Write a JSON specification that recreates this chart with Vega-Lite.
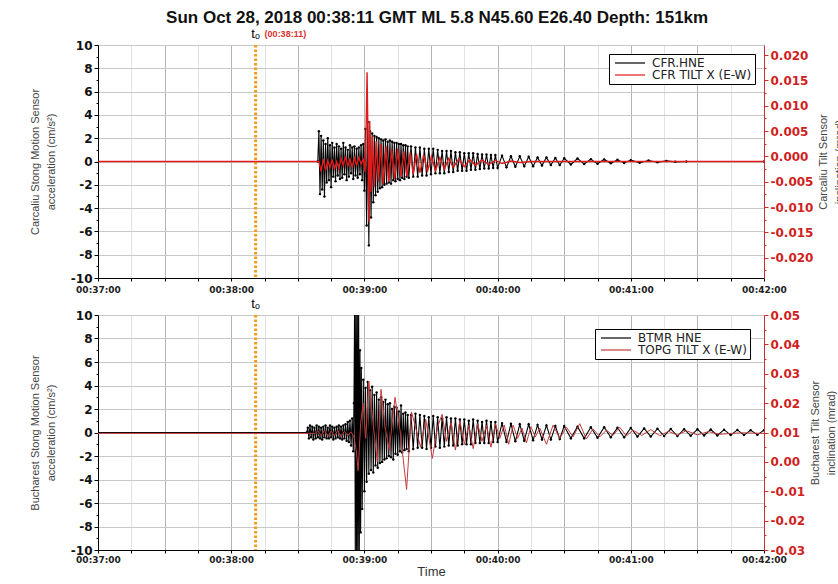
{
"$schema": "https://vega.github.io/schema/vega-lite/v6.json",
"padding": {"left": 28, "top": 8, "right": 5, "bottom": 5},
"bounds": "flush",
"spacing": 37,
"title": {"text": "Sun Oct 28, 2018 00:38:11 GMT ML 5.8 N45.60 E26.40 Depth: 151km", "font": "Liberation Sans", "fontSize": 17, "fontWeight": "bold", "color": "#111", "anchor": "middle", "offset": 1},
"datasets": {
"cfrA": [{"s":0,"v":0},{"s":99,"v":0},{"s":99.5,"v":2.6},{"s":100,"v":-2.8},{"s":100.5,"v":2.2},{"s":101,"v":-2.4},{"s":101.5,"v":1.8},{"s":102,"v":-3.0},{"s":102.5,"v":1.5},{"s":103,"v":-1.8},{"s":103.5,"v":2.0},{"s":104,"v":-1.6},{"s":104.5,"v":1.4},{"s":105,"v":-2.2},{"s":105.5,"v":1.6},{"s":106,"v":-1.3},{"s":106.5,"v":1.2},{"s":107,"v":-1.7},{"s":107.5,"v":1.5},{"s":108,"v":-1.2},{"s":108.5,"v":1.3},{"s":109,"v":-1.5},{"s":109.5,"v":1.1},{"s":110,"v":-1.4},{"s":110.5,"v":1.6},{"s":111,"v":-1.1},{"s":111.5,"v":1.2},{"s":112,"v":-1.6},{"s":112.5,"v":1.0},{"s":113,"v":-1.3},{"s":113.5,"v":1.4},{"s":114,"v":-1.0},{"s":114.5,"v":1.2},{"s":115,"v":-1.5},{"s":115.5,"v":1.3},{"s":116,"v":-1.2},{"s":116.5,"v":1.1},{"s":117,"v":-1.4},{"s":117.5,"v":1.2},{"s":118,"v":-1.1},{"s":118.5,"v":1.4},{"s":119,"v":-1.6},{"s":119.5,"v":1.5},{"s":120,"v":-2.5},{"s":120.5,"v":2.8},{"s":121,"v":-5.5},{"s":121.5,"v":3.4},{"s":122,"v":-7.2},{"s":122.5,"v":2.6},{"s":123,"v":-4.8},{"s":123.5,"v":2.4},{"s":124,"v":-3.5},{"s":124.5,"v":2.2},{"s":125,"v":-2.9},{"s":125.5,"v":2.1},{"s":126,"v":-2.6},{"s":126.5,"v":2.0},{"s":127,"v":-2.3},{"s":127.5,"v":1.9},{"s":128,"v":-2.2},{"s":128.5,"v":1.8},{"s":129,"v":-2.0},{"s":129.5,"v":1.9},{"s":130,"v":-1.9},{"s":130.5,"v":1.7},{"s":131,"v":-1.8},{"s":131.5,"v":1.8},{"s":132,"v":-1.9},{"s":132.5,"v":1.7},{"s":133,"v":-1.6},{"s":133.5,"v":1.6},{"s":134,"v":-1.7},{"s":134.5,"v":1.6},{"s":135,"v":-1.5},{"s":135.5,"v":1.5},{"s":136,"v":-1.6},{"s":136.5,"v":1.5},{"s":137,"v":-1.4},{"s":137.5,"v":1.4},{"s":138,"v":-1.5},{"s":138.5,"v":1.4},{"s":139,"v":-1.3},{"s":139.5,"v":1.3},{"s":140,"v":-1.4},{"s":141,"v":1.3},{"s":142,"v":-1.3},{"s":143,"v":1.2},{"s":144,"v":-1.3},{"s":145,"v":1.2},{"s":146,"v":-1.2},{"s":147,"v":1.1},{"s":148,"v":-1.2},{"s":149,"v":1.1},{"s":150,"v":-1.1},{"s":151,"v":1.1},{"s":152,"v":-1.0},{"s":153,"v":1.0},{"s":154,"v":-1.0},{"s":155,"v":0.9},{"s":156,"v":-1.0},{"s":157,"v":0.9},{"s":158,"v":-0.9},{"s":159,"v":0.9},{"s":160,"v":-0.9},{"s":161,"v":0.8},{"s":162,"v":-0.8},{"s":163,"v":0.8},{"s":164,"v":-0.8},{"s":165,"v":0.7},{"s":166,"v":-0.8},{"s":167,"v":0.7},{"s":168,"v":-0.7},{"s":169,"v":0.7},{"s":170,"v":-0.7},{"s":171,"v":0.65},{"s":172,"v":-0.65},{"s":173,"v":0.6},{"s":174,"v":-0.6},{"s":175,"v":0.6},{"s":176,"v":-0.6},{"s":177,"v":0.55},{"s":178,"v":-0.55},{"s":179,"v":0.55},{"s":180,"v":-0.55},{"s":182,"v":0.5},{"s":184,"v":-0.5},{"s":186,"v":0.45},{"s":188,"v":-0.45},{"s":190,"v":0.45},{"s":192,"v":-0.4},{"s":194,"v":0.4},{"s":196,"v":-0.4},{"s":198,"v":0.35},{"s":200,"v":-0.35},{"s":202,"v":0.35},{"s":204,"v":-0.3},{"s":206,"v":0.3},{"s":208,"v":-0.3},{"s":210,"v":0.28},{"s":213,"v":-0.25},{"s":216,"v":0.25},{"s":219,"v":-0.22},{"s":222,"v":0.2},{"s":225,"v":-0.2},{"s":228,"v":0.18},{"s":231,"v":-0.15},{"s":234,"v":0.15},{"s":237,"v":-0.13},{"s":240,"v":0.12},{"s":244,"v":-0.1},{"s":248,"v":0.08},{"s":252,"v":-0.06},{"s":256,"v":0.05},{"s":260,"v":-0.03},{"s":265,"v":0},{"s":300,"v":0}],
"cfrT": [{"s":0,"v":-0.001},{"s":99.5,"v":-0.001},{"s":100.5,"v":-0.003},{"s":101.5,"v":-0.0005},{"s":102.5,"v":-0.0028},{"s":103.5,"v":-0.0008},{"s":104.5,"v":-0.0022},{"s":105.5,"v":-0.0006},{"s":106.5,"v":-0.0026},{"s":107.5,"v":-0.001},{"s":108.5,"v":-0.0024},{"s":109.5,"v":-0.0004},{"s":110.5,"v":-0.0018},{"s":111.5,"v":0},{"s":112.5,"v":-0.002},{"s":113.5,"v":-0.0005},{"s":114.5,"v":-0.0022},{"s":115.5,"v":-0.0003},{"s":116.5,"v":-0.0017},{"s":117.5,"v":-0.0002},{"s":118.5,"v":-0.0015},{"s":119.5,"v":-0.0006},{"s":120.3,"v":-0.003},{"s":120.8,"v":0.006},{"s":121.2,"v":0.0166},{"s":121.6,"v":0.004},{"s":122,"v":-0.0129},{"s":122.4,"v":0.007},{"s":122.9,"v":-0.007},{"s":123.6,"v":0.004},{"s":124.4,"v":-0.006},{"s":125.3,"v":0.003},{"s":126.3,"v":-0.005},{"s":127.3,"v":0.0025},{"s":128.5,"v":-0.0055},{"s":129.8,"v":0.002},{"s":131,"v":-0.005},{"s":132.3,"v":0.0015},{"s":133.6,"v":-0.0045},{"s":135,"v":0.0015},{"s":136.4,"v":-0.004},{"s":137.8,"v":0.001},{"s":139.2,"v":-0.004},{"s":140.6,"v":0.0008},{"s":142,"v":-0.0035},{"s":143.5,"v":0.0005},{"s":145,"v":-0.0032},{"s":146.7,"v":0.0003},{"s":148.4,"v":-0.003},{"s":150.2,"v":0},{"s":152,"v":-0.0028},{"s":154,"v":-0.0002},{"s":156,"v":-0.0025},{"s":158,"v":-0.0004},{"s":160,"v":-0.0022},{"s":162.5,"v":-0.0005},{"s":165,"v":-0.002},{"s":167.5,"v":-0.0006},{"s":170,"v":-0.0018},{"s":173,"v":-0.0007},{"s":176,"v":-0.0016},{"s":179,"v":-0.0008},{"s":182,"v":-0.0014},{"s":186,"v":-0.0009},{"s":190,"v":-0.0012},{"s":195,"v":-0.001},{"s":300,"v":-0.001}],
"btmrA": [{"s":0,"v":0},{"s":94,"v":0},{"s":94.5,"v":0.4},{"s":95,"v":-0.5},{"s":95.5,"v":0.6},{"s":96,"v":-0.4},{"s":96.5,"v":0.5},{"s":97,"v":-0.6},{"s":97.5,"v":0.4},{"s":98,"v":-0.5},{"s":98.5,"v":0.6},{"s":99,"v":-0.4},{"s":99.5,"v":0.5},{"s":100,"v":-0.5},{"s":100.5,"v":0.4},{"s":101,"v":-0.6},{"s":101.5,"v":0.5},{"s":102,"v":-0.4},{"s":102.5,"v":0.6},{"s":103,"v":-0.5},{"s":103.5,"v":0.4},{"s":104,"v":-0.5},{"s":104.5,"v":0.6},{"s":105,"v":-0.4},{"s":105.5,"v":0.5},{"s":106,"v":-0.6},{"s":106.5,"v":0.4},{"s":107,"v":-0.5},{"s":107.5,"v":0.5},{"s":108,"v":-0.4},{"s":108.5,"v":0.6},{"s":109,"v":-0.5},{"s":109.5,"v":0.5},{"s":110,"v":-0.6},{"s":110.5,"v":0.6},{"s":111,"v":-0.5},{"s":111.5,"v":0.7},{"s":112,"v":-0.7},{"s":112.5,"v":0.9},{"s":113,"v":-0.8},{"s":113.5,"v":1.0},{"s":114,"v":-1.1},{"s":114.5,"v":1.2},{"s":115,"v":-1.6},{"s":115.3,"v":2.5},{"s":115.6,"v":11},{"s":115.9,"v":-11},{"s":116.2,"v":11},{"s":116.5,"v":-11},{"s":116.8,"v":11},{"s":117.1,"v":-11},{"s":117.4,"v":11},{"s":117.7,"v":-10.5},{"s":118,"v":7},{"s":118.3,"v":-8.5},{"s":118.6,"v":5.5},{"s":119,"v":-6.5},{"s":119.5,"v":4.5},{"s":120,"v":-5},{"s":120.5,"v":3.8},{"s":121,"v":-4.2},{"s":121.5,"v":4.3},{"s":122,"v":-3.5},{"s":122.5,"v":3.6},{"s":123,"v":-3.2},{"s":123.5,"v":3.9},{"s":124,"v":-3.4},{"s":124.5,"v":3.2},{"s":125,"v":-2.8},{"s":125.5,"v":3.4},{"s":126,"v":-3.0},{"s":126.5,"v":2.8},{"s":127,"v":-2.6},{"s":127.5,"v":3.0},{"s":128,"v":-2.5},{"s":128.5,"v":2.6},{"s":129,"v":-2.3},{"s":129.5,"v":2.8},{"s":130,"v":-2.2},{"s":130.5,"v":2.4},{"s":131,"v":-2.0},{"s":131.5,"v":2.5},{"s":132,"v":-2.1},{"s":132.5,"v":2.0},{"s":133,"v":-2.3},{"s":133.5,"v":2.2},{"s":134,"v":-1.8},{"s":134.5,"v":2.1},{"s":135,"v":-1.9},{"s":135.5,"v":1.8},{"s":136,"v":-1.6},{"s":136.5,"v":2.3},{"s":137,"v":-1.7},{"s":137.5,"v":1.6},{"s":138,"v":-1.5},{"s":138.5,"v":1.7},{"s":139,"v":-1.4},{"s":139.5,"v":1.5},{"s":140,"v":-1.6},{"s":141,"v":1.5},{"s":142,"v":-1.4},{"s":143,"v":1.6},{"s":144,"v":-1.3},{"s":145,"v":1.5},{"s":146,"v":-1.3},{"s":147,"v":1.4},{"s":148,"v":-1.4},{"s":149,"v":1.3},{"s":150,"v":-1.3},{"s":151,"v":1.4},{"s":152,"v":-1.2},{"s":153,"v":1.3},{"s":154,"v":-1.3},{"s":155,"v":1.2},{"s":156,"v":-1.2},{"s":157,"v":1.3},{"s":158,"v":-1.1},{"s":159,"v":1.2},{"s":160,"v":-1.1},{"s":161,"v":1.2},{"s":162,"v":-1.1},{"s":163,"v":1.1},{"s":164,"v":-1.0},{"s":165,"v":1.1},{"s":166,"v":-1.0},{"s":167,"v":1.0},{"s":168,"v":-1.0},{"s":169,"v":1.1},{"s":170,"v":-0.9},{"s":171,"v":1.0},{"s":172,"v":-0.9},{"s":173,"v":0.9},{"s":174,"v":-0.9},{"s":175,"v":1.0},{"s":176,"v":-0.9},{"s":177,"v":0.9},{"s":178,"v":-0.8},{"s":179,"v":0.9},{"s":180,"v":-0.8},{"s":182,"v":0.8},{"s":184,"v":-0.8},{"s":186,"v":0.75},{"s":188,"v":-0.75},{"s":190,"v":0.7},{"s":192,"v":-0.7},{"s":194,"v":0.7},{"s":196,"v":-0.65},{"s":198,"v":0.65},{"s":200,"v":-0.6},{"s":202,"v":0.6},{"s":204,"v":-0.6},{"s":206,"v":0.55},{"s":208,"v":-0.55},{"s":210,"v":0.55},{"s":213,"v":-0.5},{"s":216,"v":0.5},{"s":219,"v":-0.5},{"s":222,"v":0.45},{"s":225,"v":-0.45},{"s":228,"v":0.45},{"s":231,"v":-0.4},{"s":234,"v":0.4},{"s":237,"v":-0.4},{"s":240,"v":0.38},{"s":243,"v":-0.35},{"s":246,"v":0.35},{"s":249,"v":-0.35},{"s":252,"v":0.32},{"s":255,"v":-0.3},{"s":258,"v":0.3},{"s":261,"v":-0.3},{"s":264,"v":0.28},{"s":267,"v":-0.28},{"s":270,"v":0.27},{"s":273,"v":-0.25},{"s":276,"v":0.25},{"s":279,"v":-0.25},{"s":282,"v":0.24},{"s":285,"v":-0.22},{"s":288,"v":0.22},{"s":291,"v":-0.22},{"s":294,"v":0.2},{"s":297,"v":-0.2},{"s":300,"v":0.2}],
"topgT": [{"s":0,"v":0.0097},{"s":98,"v":0.0097},{"s":99,"v":0.0106},{"s":100.5,"v":0.009},{"s":102,"v":0.0108},{"s":103.5,"v":0.0087},{"s":105,"v":0.0105},{"s":106.5,"v":0.0088},{"s":108,"v":0.0107},{"s":109.5,"v":0.0086},{"s":111,"v":0.0104},{"s":112.5,"v":0.009},{"s":114,"v":0.0102},{"s":115.3,"v":0.0085},{"s":116.3,"v":0.004},{"s":117.2,"v":-0.003},{"s":118.3,"v":0.013},{"s":119.4,"v":0.02},{"s":120.6,"v":0.008},{"s":122,"v":0.0275},{"s":123.8,"v":0.014},{"s":125.8,"v":0.0001},{"s":127.5,"v":0.0247},{"s":129.3,"v":0.012},{"s":131.2,"v":0.004},{"s":133.8,"v":0.022},{"s":136,"v":0.011},{"s":139,"v":-0.0094},{"s":141.2,"v":0.017},{"s":142.8,"v":0.0125},{"s":145.3,"v":0.005},{"s":147.6,"v":0.0145},{"s":150.6,"v":0.0012},{"s":153,"v":0.012},{"s":155,"v":0.0162},{"s":157,"v":0.007},{"s":159,"v":0.0135},{"s":161,"v":0.004},{"s":163,"v":0.014},{"s":165,"v":0.006},{"s":167,"v":0.0125},{"s":169,"v":0.0045},{"s":171,"v":0.013},{"s":173,"v":0.007},{"s":175,"v":0.0125},{"s":177,"v":0.005},{"s":179,"v":0.013},{"s":181,"v":0.008},{"s":183,"v":0.0125},{"s":185,"v":0.006},{"s":187,"v":0.0125},{"s":189,"v":0.008},{"s":191,"v":0.0115},{"s":193,"v":0.0065},{"s":195,"v":0.012},{"s":197,"v":0.0085},{"s":199,"v":0.0115},{"s":202,"v":0.006},{"s":205,"v":0.0125},{"s":208,"v":0.008},{"s":211,"v":0.0118},{"s":214,"v":0.0085},{"s":217,"v":0.013},{"s":220,"v":0.0078},{"s":223,"v":0.0112},{"s":226,"v":0.0085},{"s":229,"v":0.0108},{"s":232,"v":0.009},{"s":235,"v":0.0118},{"s":238,"v":0.0088},{"s":241,"v":0.0108},{"s":245,"v":0.009},{"s":249,"v":0.011},{"s":253,"v":0.0089},{"s":257,"v":0.0104},{"s":261,"v":0.0091},{"s":265,"v":0.0106},{"s":270,"v":0.0092},{"s":275,"v":0.0103},{"s":280,"v":0.0094},{"s":290,"v":0.0099},{"s":300,"v":0.0097}],
"t0": [{"s": 71, "v": 10}]
},
"vconcat": [
{
"width": 666, "height": 233,
"encoding": {"x": {"field": "s", "type": "quantitative", "scale": {"domain": [0, 300], "nice": false, "zero": false}, "axis": {"values": [0,15,30,45,60,75,90,105,120,135,150,165,180,195,210,225,240,255,270,285,300], "tickCount": 60, "labelExpr": "datum.value % 60 == 0 ? timeFormat(datetime(2018, 9, 28, 0, 37, datum.value), '%H:%M:%S') : ''", "title": null, "labelFontSize": 9, "labelColor": "#222", "tickSize": 3, "labelPadding": 4, "labelFlush": false, "labelOverlap": false, "grid": true, "gridColor": {"condition": {"test": "datum.value % 30 == 0", "value": "#b4b4b4"}, "value": "#e2e2e2"}}}},
"layer": [
{
"layer": [
{"data": {"name": "t0"}, "mark": {"type": "rule", "color": "#f39c12", "strokeWidth": 3, "strokeDash": [2.5, 2]}, "encoding": {}},
{"data": {"name": "cfrA"}, "mark": {"type": "line", "strokeWidth": 1.1, "clip": true, "point": {"filled": true, "size": 6}},
 "encoding": {
  "y": {"field": "v", "type": "quantitative", "scale": {"domain": [-10, 10], "nice": false}, "axis": {"values": [-10,-9,-8,-7,-6,-5,-4,-3,-2,-1,0,1,2,3,4,5,6,7,8,9,10], "tickCount": 60, "format": "d", "labelOverlap": false, "labelExpr": "datum.value % 2 == 0 ? replace(datum.label, '−', '-') : ''", "labelFontSize": 12, "labelColor": "#111", "tickSize": {"condition": {"test": "datum.value % 2 == 0", "value": 4}, "value": 2}, "grid": true, "gridColor": {"condition": {"test": "datum.value % 2 == 0", "value": "#c8c8c8"}, "value": "transparent"}, "title": ["Carcaliu Stong Motion Sensor", "acceleration (cm/s²)"], "titleFontSize": 11, "titleLineHeight": 16, "titlePadding": 14}},
  "color": {"datum": "CFR.HNE", "scale": {"domain": ["CFR.HNE", "CFR TILT X (E-W)"], "range": ["#000000", "#e01b1b"]}, "legend": {"orient": "top-right", "offset": 9}}
 }},
{"data": {"name": "t0"}, "mark": {"type": "text", "text": "tₒ", "font": "Liberation Sans", "fontSize": 13, "align": "center", "baseline": "bottom", "dy": -4, "color": "#000"}, "encoding": {"y": {"field": "v", "type": "quantitative"}}},
{"data": {"name": "t0"}, "mark": {"type": "text", "text": "(00:38:11)", "font": "Liberation Sans", "fontSize": 9, "fontWeight": "bold", "align": "left", "baseline": "bottom", "dx": 9, "dy": -6, "color": "#e03030"}, "encoding": {"y": {"field": "v", "type": "quantitative"}}}
]
},
{"data": {"name": "cfrT"}, "mark": {"type": "line", "strokeWidth": 1.4},
 "encoding": {
  "y": {"field": "v", "type": "quantitative", "scale": {"domain": [-0.024, 0.022], "nice": false, "zero": false}, "axis": {"orient": "right", "values": [-0.0225,-0.02,-0.0175,-0.015,-0.0125,-0.01,-0.0075,-0.005,-0.0025,0,0.0025,0.005,0.0075,0.01,0.0125,0.015,0.0175,0.02], "tickCount": 60, "format": ".3f", "labelExpr": "abs(round(datum.value*10000)) % 50 == 0 ? replace(datum.label, '−', '-') : ''", "labelOverlap": false, "labelFontSize": 12, "labelColor": "#d01f1f", "domainColor": "#c83232", "tickColor": "#c83232", "tickSize": {"condition": {"test": "abs(round(datum.value*10000)) % 50 == 0", "value": 4}, "value": 2}, "grid": false, "title": ["Carcaliu Tilt Sensor", "inclination (mrad)"], "titleAngle": 270, "titleFontSize": 11, "titleLineHeight": 16, "titlePadding": 0}},
  "color": {"datum": "CFR TILT X (E-W)"}
 }}
],
"resolve": {"scale": {"y": "independent"}}
},
{
"width": 666, "height": 235,
"encoding": {"x": {"field": "s", "type": "quantitative", "scale": {"domain": [0, 300], "nice": false, "zero": false}, "axis": {"values": [0,15,30,45,60,75,90,105,120,135,150,165,180,195,210,225,240,255,270,285,300], "tickCount": 60, "labelExpr": "datum.value % 60 == 0 ? timeFormat(datetime(2018, 9, 28, 0, 37, datum.value), '%H:%M:%S') : ''", "title": "Time", "titleFont": "Liberation Sans", "titleFontSize": 13, "titleColor": "#333", "titlePadding": 1, "labelFontSize": 9, "labelColor": "#222", "tickSize": 3, "labelPadding": 2, "labelFlush": false, "labelOverlap": false, "grid": true, "gridColor": {"condition": {"test": "datum.value % 30 == 0", "value": "#b4b4b4"}, "value": "#e2e2e2"}}}},
"layer": [
{
"layer": [
{"data": {"name": "t0"}, "mark": {"type": "rule", "color": "#f39c12", "strokeWidth": 3, "strokeDash": [2.5, 2]}, "encoding": {}},
{"data": {"name": "btmrA"}, "mark": {"type": "line", "strokeWidth": 1.1, "clip": true, "point": {"filled": true, "size": 6}},
 "encoding": {
  "y": {"field": "v", "type": "quantitative", "scale": {"domain": [-10, 10], "nice": false}, "axis": {"values": [-10,-9,-8,-7,-6,-5,-4,-3,-2,-1,0,1,2,3,4,5,6,7,8,9,10], "tickCount": 60, "format": "d", "labelOverlap": false, "labelExpr": "datum.value % 2 == 0 ? replace(datum.label, '−', '-') : ''", "labelFontSize": 12, "labelColor": "#111", "tickSize": {"condition": {"test": "datum.value % 2 == 0", "value": 4}, "value": 2}, "grid": true, "gridColor": {"condition": {"test": "datum.value % 2 == 0", "value": "#c8c8c8"}, "value": "transparent"}, "title": ["Bucharest Stong Motion Sensor", "acceleration (cm/s²)"], "titleFontSize": 11, "titleLineHeight": 16, "titlePadding": 14}},
  "color": {"datum": "BTMR HNE", "scale": {"domain": ["BTMR HNE", "TOPG TILT X (E-W)"], "range": ["#000000", "#c23c3c"]}, "legend": {"orient": "top-right", "offset": 14}}
 }},
{"data": {"name": "t0"}, "mark": {"type": "text", "text": "tₒ", "font": "Liberation Sans", "fontSize": 13, "align": "center", "baseline": "bottom", "dy": -4, "color": "#000"}, "encoding": {"y": {"field": "v", "type": "quantitative"}}}
]
},
{"data": {"name": "topgT"}, "mark": {"type": "line", "strokeWidth": 1},
 "encoding": {
  "y": {"field": "v", "type": "quantitative", "scale": {"domain": [-0.03, 0.05], "nice": false, "zero": false}, "axis": {"orient": "right", "values": [-0.03,-0.025,-0.02,-0.015,-0.01,-0.005,0,0.005,0.01,0.015,0.02,0.025,0.03,0.035,0.04,0.045,0.05], "tickCount": 60, "format": ".2f", "labelExpr": "abs(round(datum.value*1000)) % 10 == 0 ? replace(datum.label, '−', '-') : ''", "labelOverlap": false, "labelFontSize": 12, "labelColor": "#d01f1f", "domainColor": "#c83232", "tickColor": "#c83232", "tickSize": {"condition": {"test": "abs(round(datum.value*1000)) % 10 == 0", "value": 4}, "value": 2}, "grid": false, "title": ["Bucharest Tilt Sensor", "inclination (mrad)"], "titleAngle": 270, "titleFontSize": 11, "titleLineHeight": 16, "titlePadding": 0}},
  "color": {"datum": "TOPG TILT X (E-W)"}
 }}
],
"resolve": {"scale": {"y": "independent"}}
}
],
"resolve": {"scale": {"color": "independent"}, "legend": {"color": "independent"}},
"config": {
"view": {"stroke": "#cc3333", "strokeWidth": 1},
"axis": {"labelFont": "DejaVu Sans", "labelFontWeight": "bold", "titleFont": "Liberation Sans", "titleFontWeight": "normal", "titleColor": "#444", "domainColor": "#000", "tickColor": "#000"},
"axisLeft": {"labelOverlap": false},
"axisY": {"labelOverlap": false},
"legend": {"title": null, "strokeColor": "#000", "fillColor": "#fff", "padding": 3, "labelFont": "DejaVu Sans", "labelFontSize": 12, "labelColor": "#222", "symbolType": "M-3,0L3,0", "symbolSize": 100, "symbolOffset": 12, "symbolStrokeWidth": 1.2, "rowPadding": 0, "labelOffset": 16, "cornerRadius": 0}
}
}
